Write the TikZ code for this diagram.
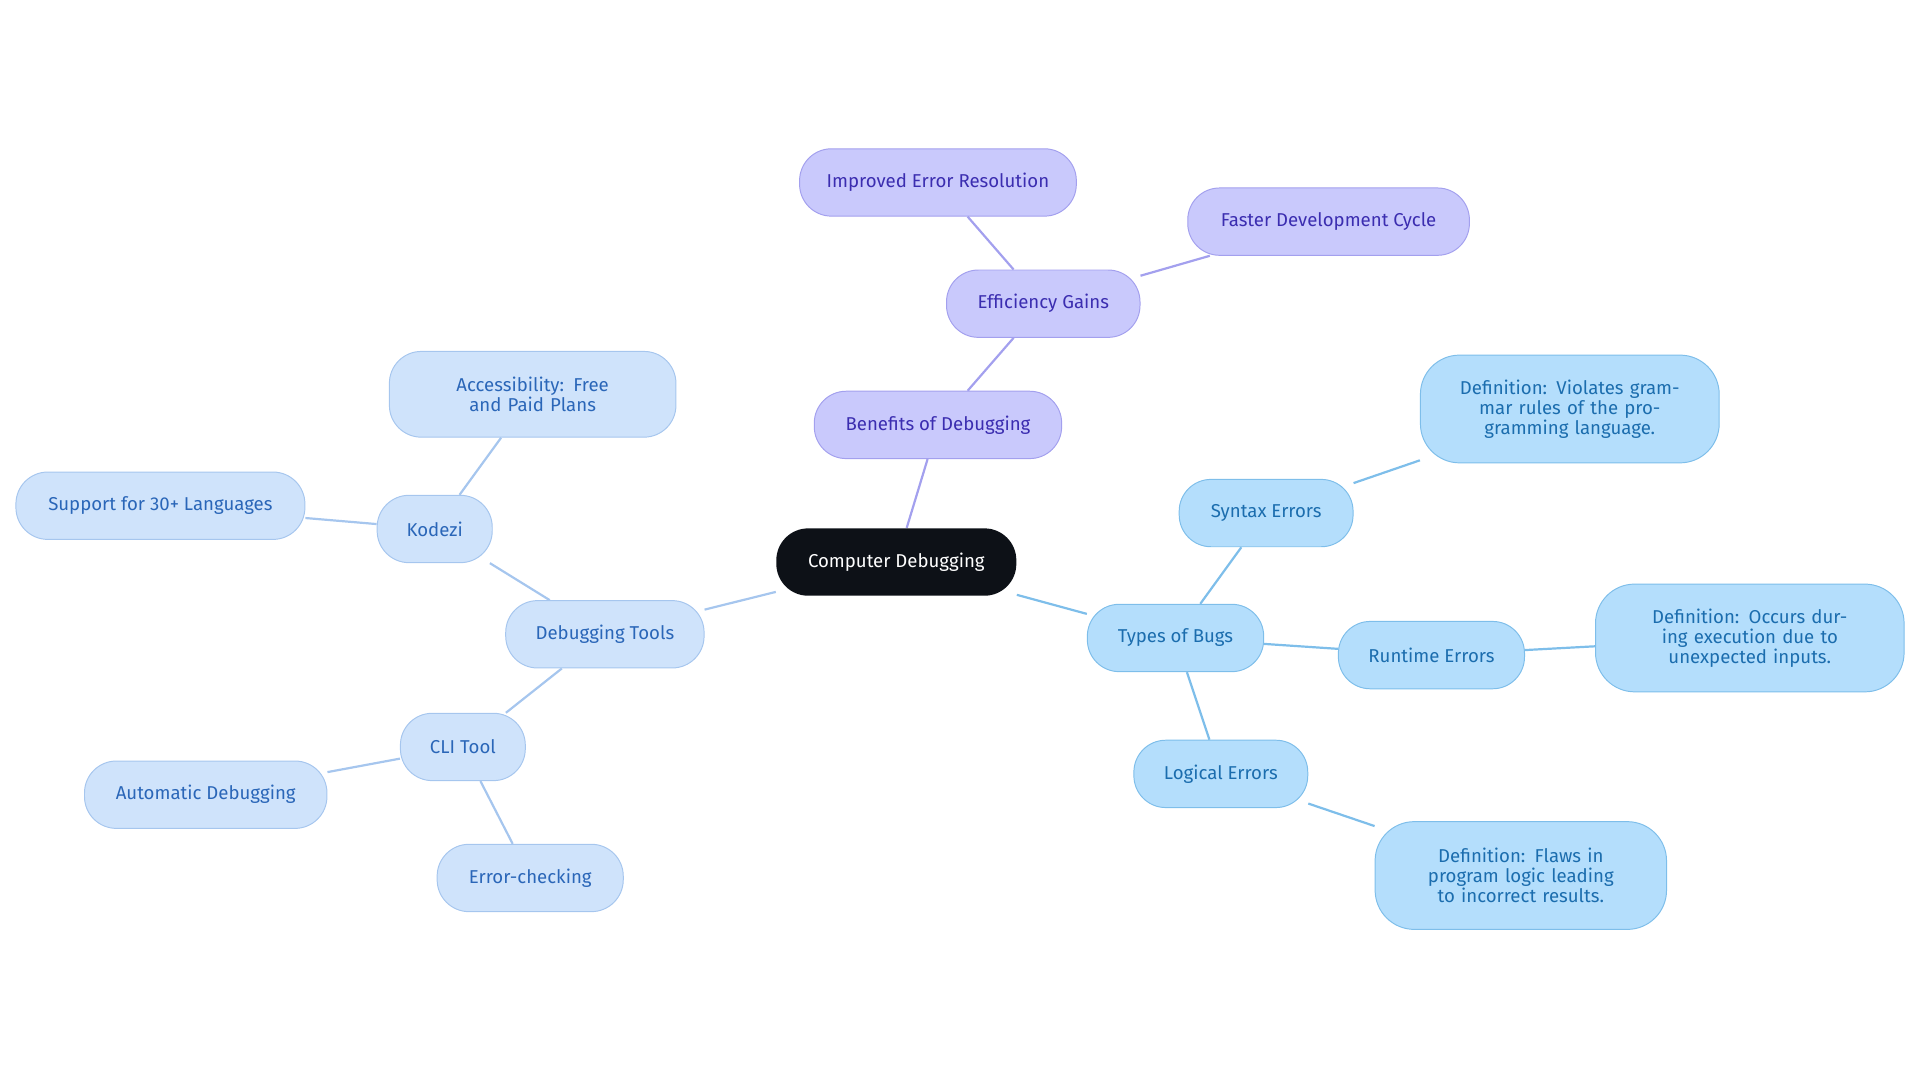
\documentclass[tikz,border=0pt]{standalone}
\usepackage{fontspec}
\setmainfont{Fira Sans}
\usetikzlibrary{backgrounds}
\definecolor{rootfill}{HTML}{0D1117}
\definecolor{purfill}{HTML}{C9C9FC}
\definecolor{purline}{HTML}{A3A0EE}
\definecolor{purtext}{HTML}{3B2DB0}
\definecolor{bugfill}{HTML}{B4DEFC}
\definecolor{bugline}{HTML}{7EBEEA}
\definecolor{bugtext}{HTML}{1B6DAE}
\definecolor{toolfill}{HTML}{CFE3FB}
\definecolor{toolline}{HTML}{A6C6EE}
\definecolor{tooltext}{HTML}{2A66B8}
\tikzset{box/.style={rounded corners=13pt,minimum height=27.5pt,align=center,
           font=\fontsize{7.6}{8.2}\selectfont,inner sep=2pt},
         rootbox/.style={box,fill=rootfill,text=white},
         purbox/.style={box,fill=purfill,draw=purline,text=purtext},
         bugbox/.style={box,fill=bugfill,draw=bugline,text=bugtext},
         toolbox/.style={box,fill=toolfill,draw=toolline,text=tooltext},
         defbox/.style={bugbox,minimum height=44pt,rounded corners=16pt},
         puredge/.style={draw=purline,line width=0.9pt},
         bugedge/.style={draw=bugline,line width=0.9pt},
         tooledge/.style={draw=toolline,line width=0.9pt}}
\begin{document}
\begin{tikzpicture}[x=0.5pt,y=-0.5pt]
\useasboundingbox (0,0) rectangle (1568,884);
% root
\node[rootbox,minimum width=98pt] (root) at (732,459) {Computer Debugging};
% benefits
\node[purbox,minimum width=101pt] (benefits) at (766,347) {Benefits of Debugging};
\node[purbox,minimum width=79pt] (gains) at (852,248) {Efficiency Gains};
\node[purbox,minimum width=113pt] (resol) at (766,149) {Improved Error Resolution};
\node[purbox,minimum width=115pt] (cycle) at (1085,181) {Faster Development Cycle};
% types of bugs
\node[bugbox,minimum width=72pt] (types) at (960,521) {Types of Bugs};
\node[bugbox,minimum width=71pt] (syntax) at (1034,419) {Syntax Errors};
\node[defbox,minimum width=122pt,text width=108pt] (syndef) at (1282,334) {Definition: Violates grammar rules of the programming language.};
\node[bugbox,minimum width=76pt] (runtime) at (1169,535) {Runtime Errors};
\node[defbox,minimum width=126pt,text width=112pt] (rundef) at (1429,521) {Definition: Occurs during execution due to unexpected inputs.};
\node[bugbox,minimum width=71pt] (logical) at (997,632) {Logical Errors};
\node[defbox,minimum width=119pt,text width=104pt] (logdef) at (1242,715) {Definition: Flaws in program logic leading to incorrect results.};
% tools
\node[toolbox,minimum width=81pt] (tools) at (494,518) {Debugging Tools};
\node[toolbox,minimum width=47pt] (kodezi) at (355,432) {Kodezi};
\node[toolbox,minimum width=117pt,minimum height=35pt,text width=100pt] (access) at (435,322) {Accessibility: Free and Paid Plans};
\node[toolbox,minimum width=118pt] (support) at (131,413) {Support for 30+ Languages};
\node[toolbox,minimum width=51pt] (cli) at (378,610) {CLI Tool};
\node[toolbox,minimum width=99pt] (auto) at (168,649) {Automatic Debugging};
\node[toolbox,minimum width=76pt] (check) at (433,717) {Error-checking};
% connectors
\begin{scope}[on background layer]
\path[puredge] (root) -- (benefits) (benefits) -- (gains) (gains) -- (resol) (gains) -- (cycle);
\path[bugedge] (root) -- (types) (types) -- (syntax) (syntax) -- (syndef)
  (types) -- (runtime) (runtime) -- (rundef) (types) -- (logical) (logical) -- (logdef);
\path[tooledge] (root) -- (tools) (tools) -- (kodezi) (kodezi) -- (access) (kodezi) -- (support)
  (tools) -- (cli) (cli) -- (auto) (cli) -- (check);
\end{scope}
\end{tikzpicture}
\end{document}
